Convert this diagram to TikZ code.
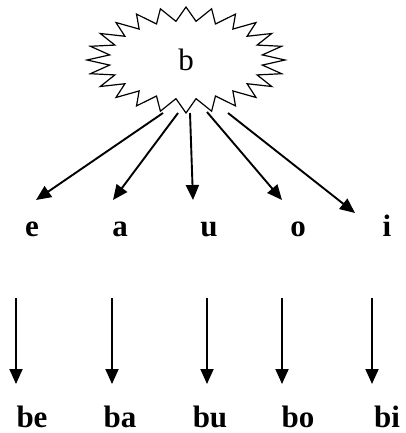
\documentclass[tikz,border=0pt]{standalone}
\usepackage{fontspec}
\setmainfont{Liberation Serif}
\usetikzlibrary{arrows.meta}
\begin{document}
\begin{tikzpicture}[x=1pt,y=-1pt,
  lbl/.style={font=\fontsize{31}{33}\selectfont\bfseries, anchor=base, inner sep=0pt},
  arr/.style={line width=1.9pt, -{Triangle[length=15pt,width=13pt]}},
  starline/.style={line width=1.2pt, line join=miter}]
\useasboundingbox (0,0) rectangle (405,433);
% starburst
\draw[starline] plot[samples at={0,...,47}, variable=\k]
  ({186+ (mod(\k,2)==0 ? 99 : 77)*cos(\k*7.5+90)},
   {60 + (mod(\k,2)==0 ? 53 : 39)*sin(\k*7.5+90)}) -- cycle;
\node[font=\fontsize{31}{33}\selectfont, inner sep=0pt] (star) at (186,60) {b};
% start and end points
\coordinate (s1) at (163,113);
\coordinate (s2) at (178,113);
\coordinate (s3) at (190,113);
\coordinate (s4) at (207,112);
\coordinate (s5) at (228,113);
\coordinate (t1) at (36,200);
\coordinate (t2) at (113,200);
\coordinate (t3) at (193,200);
\coordinate (t4) at (282,200);
\coordinate (t5) at (355,213);
% vowels
\node[lbl] (e) at (32,236) {e};
\node[lbl] (a) at (120,236) {a};
\node[lbl] (u) at (209,236) {u};
\node[lbl] (o) at (298,236) {o};
\node[lbl] (i) at (387,236) {i};
\foreach \n in {1,...,5} \draw[arr] (s\n) -- (t\n);
% lower arrows
\coordinate (p1) at (16,298);  \coordinate (q1) at (16,384);
\coordinate (p2) at (112,298); \coordinate (q2) at (112,384);
\coordinate (p3) at (207,298); \coordinate (q3) at (207,384);
\coordinate (p4) at (282,298); \coordinate (q4) at (282,384);
\coordinate (p5) at (372,298); \coordinate (q5) at (372,384);
\foreach \n in {1,...,5} \draw[arr] (p\n) -- (q\n);
% syllables
\node[lbl] (be) at (32,427) {be};
\node[lbl] (ba) at (120,427) {ba};
\node[lbl] (bu) at (210,427) {bu};
\node[lbl] (bo) at (298,427) {bo};
\node[lbl] (bi) at (387,427) {bi};
\end{tikzpicture}
\end{document}
